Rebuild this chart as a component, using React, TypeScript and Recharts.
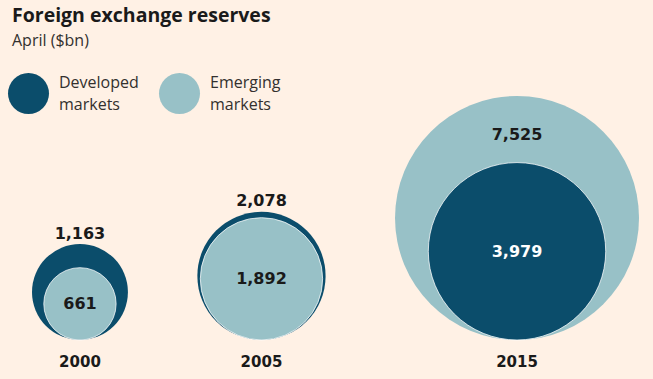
import { Scatter, ScatterChart, XAxis, YAxis } from "recharts";

const years = ["2000", "2005", "2015"];
const developed = [1163, 2078, 3979];
const emerging = [661, 1892, 7525];

const DARK = "#0b4d6b";
const LIGHT = "#98c1c7";
const BG = "#fff1e5";
const INK = "#1a1a1a";
const TEXT_FONT = "'Open Sans', sans-serif";
const NUM_FONT = "'DejaVu Sans', sans-serif";

const W = 653;
const H = 379;
const margin = { top: 96, right: 14, bottom: 39, left: 32 };
const BASE = H - margin.bottom;
const GAP = 49.4; // space between bubbles, in sqrt($bn) units

interface Bubble {
  x: number;
  y: number;
  value: number;
  fill: string;
  ink: string;
  year: string;
  ring: number;
}

// bubbles sit on a common baseline; radius ~ sqrt(value), so y (centre) = radius
const radii = years.map((_, i) => Math.sqrt(Math.max(developed[i], emerging[i])));
const outer: Bubble[] = [];
const inner: Bubble[] = [];
let cursor = 0;
years.forEach((year, i) => {
  const R = radii[i];
  const cx = cursor + R;
  cursor += 2 * R + GAP;
  const devBig = developed[i] >= emerging[i];
  const big = devBig ? developed[i] : emerging[i];
  const small = devBig ? emerging[i] : developed[i];
  const r = Math.sqrt(small);
  outer.push({ x: cx, y: R, value: big, fill: devBig ? DARK : LIGHT, ink: INK, year, ring: (R - r) / R });
  inner.push({ x: cx, y: r, value: small, fill: devBig ? LIGHT : DARK, ink: devBig ? INK : "#fff", year, ring: 0 });
});
const xMax = cursor - GAP;
const yMax = 2 * Math.max(...radii);

const fmt = (v: number) => v.toLocaleString("en-GB");

function OuterShape(props: any) {
  const { cx, cy, payload } = props;
  const r = BASE - cy;
  const ringPx = 2 * r * payload.ring;
  const labelY = ringPx > 40 ? cy - r + ringPx * 0.58 : cy - r - 11;
  return (
    <g>
      <circle cx={cx} cy={cy} r={r} fill={payload.fill} />
      <text x={cx} y={labelY} textAnchor="middle" dominantBaseline="central" fontFamily={NUM_FONT} fontWeight={700} fontSize={16} fill={payload.ink}>
        {fmt(payload.value)}
      </text>
      <text x={cx} y={BASE + 22} textAnchor="middle" dominantBaseline="central" fontFamily={NUM_FONT} fontWeight={700} fontSize={15} fill={INK}>
        {payload.year}
      </text>
    </g>
  );
}

function InnerShape(props: any) {
  const { cx, cy, payload } = props;
  const r = BASE - cy;
  return (
    <g>
      <circle cx={cx} cy={cy} r={r} fill={payload.fill} stroke="rgba(255,255,255,0.75)" strokeWidth={1} />
      <text x={cx} y={cy} textAnchor="middle" dominantBaseline="central" fontFamily={NUM_FONT} fontWeight={700} fontSize={16} fill={payload.ink}>
        {fmt(payload.value)}
      </text>
    </g>
  );
}

function LegendItem({ colour, label, left }: { colour: string; label: string[]; left: number }) {
  return (
    <div style={{ position: "absolute", left, top: 71, display: "flex", alignItems: "center" }}>
      <div style={{ width: 41, height: 41, borderRadius: "50%", background: colour }} />
      <div style={{ marginLeft: 10, fontSize: 16, lineHeight: "22px", color: "#33302e" }}>
        {label.map((l) => (
          <div key={l}>{l}</div>
        ))}
      </div>
    </div>
  );
}

export default function App() {
  return (
    <div style={{ position: "fixed", left: 0, top: 0, width: W, height: H, background: BG, fontFamily: TEXT_FONT, overflow: "hidden" }}>
      <div style={{ position: "absolute", left: 12, top: 1, fontSize: 19.5, fontWeight: 700, color: INK }}>
        Foreign exchange reserves
      </div>
      <div style={{ position: "absolute", left: 12, top: 29, fontSize: 16, color: "#33302e" }}>April ($bn)</div>
      <LegendItem colour={DARK} label={["Developed", "markets"]} left={8} />
      <LegendItem colour={LIGHT} label={["Emerging", "markets"]} left={159} />
      <div style={{ position: "absolute", left: 0, top: 0 }}>
        <ScatterChart width={W} height={H} margin={margin}>
          <XAxis type="number" dataKey="x" domain={[0, xMax]} hide />
          <YAxis type="number" dataKey="y" domain={[0, yMax]} hide />
          <Scatter data={outer} shape={OuterShape} isAnimationActive={false} />
          <Scatter data={inner} shape={InnerShape} isAnimationActive={false} />
        </ScatterChart>
      </div>
    </div>
  );
}
